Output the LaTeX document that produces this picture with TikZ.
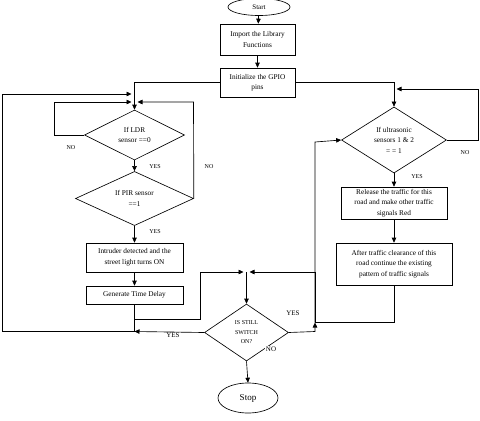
\documentclass[tikz,border=0pt]{standalone}
\usepackage{fontspec}
\setmainfont{Liberation Serif}
\usetikzlibrary{shapes.geometric,arrows.meta}
\begin{document}
\begin{tikzpicture}[x=1pt,y=-1pt,
  line width=0.65pt,
  conn/.style={draw=black},
  arr/.style={conn,-{Triangle[length=5pt,width=4.5pt]}},
  box/.style={draw,rectangle,inner sep=1pt,align=center,font=\fontsize{7.3}{10.5}\selectfont},
  dia/.style={draw,diamond,inner sep=0pt,align=center,font=\fontsize{7.3}{10.5}\selectfont},
  term/.style={draw,ellipse,inner sep=0pt},
  lbl/.style={inner sep=0.5pt,font=\fontsize{6}{7}\selectfont},
  lblb/.style={inner sep=0.5pt,font=\fontsize{7}{8}\selectfont}]
\useasboundingbox (0,0) rectangle (480,421);
\fill[white] (0,0) rectangle (480,421);

% terminals
\node[term,minimum width=62pt,minimum height=17pt,font=\fontsize{7}{8}\selectfont] (start) at (259,7) {Start};
\node[term,minimum width=60pt,minimum height=30pt,font=\fontsize{9}{10}\selectfont] (stop) at (248,398) {Stop};

% boxes
\node[box,minimum width=75pt,minimum height=31pt] (import) at (257.5,39.5) {Import the Library\\Functions};
\node[box,minimum width=75pt,minimum height=29pt] (init) at (257.5,82.5) {Initialize the GPIO\\pins};
\node[box,minimum width=97pt,minimum height=29pt] (intr) at (134.5,257.5) {Intruder detected and the\\street light turns ON};
\node[box,minimum width=97pt,minimum height=18pt] (gen) at (134.5,295) {Generate Time Delay};
\node[box,minimum width=106pt,minimum height=32pt] (rel) at (394,203) {Release the traffic for this\\road and make other traffic\\signals Red};
\node[box,minimum width=116pt,minimum height=42pt] (after) at (394,264) {After traffic clearance of this\\road continue the existing\\pattern of traffic signals};

% decisions
\node[dia,minimum width=100pt,minimum height=50pt] (ldr) at (134.5,135) {If LDR\\sensor ==0};
\node[dia,minimum width=118pt,minimum height=51pt] (pir) at (134.5,198.5) {If PIR sensor\\==1};
\node[dia,minimum width=105pt,minimum height=66pt] (ultra) at (394,140) {If ultrasonic\\sensors 1 \& 2\\= = 1};
\node[dia,minimum width=84pt,minimum height=57pt,font=\fontsize{6}{9.5}\selectfont] (sw) at (246.5,332.5) {IS STILL\\SWITCH\\ON?};

% coordinates
\coordinate (cL) at (134.5,82.5);
\coordinate (cR) at (394,82.5);
\coordinate (ldrNa) at (54,135);
\coordinate (ldrNb) at (54,102);
\coordinate (ldrNc) at (131.5,102);
\coordinate (pirNa) at (193.5,102);
\coordinate (pirNc) at (137.5,102);
\coordinate (loopA) at (134.5,331.5);
\coordinate (loopB) at (2,331.5);
\coordinate (loopC) at (2,94);
\coordinate (loopD) at (131.5,94);
\coordinate (genB) at (134.5,319);
\coordinate (genC) at (200,319);
\coordinate (genD) at (200,272);
\coordinate (jT) at (246.5,272);
\coordinate (jTl) at (243.5,272);
\coordinate (jTr) at (249.5,272);
\coordinate (aftA) at (394,322);
\coordinate (aftB) at (315,322);
\coordinate (aftC) at (315,272);
\coordinate (yesA) at (315,331.5);
\coordinate (yesB) at (315,322.5);
\coordinate (yesC) at (315,142);
\coordinate (ultNa) at (478,140);
\coordinate (ultNb) at (478,89);
\coordinate (ultNc) at (396.5,89);

% connectors
\draw[arr] (start) -- (import);
\draw[arr] (import) -- (init);
\draw[arr] (init.west) -- (cL) -- (ldr.north);
\draw[arr] (init.east) -- (cR) -- (ultra.north);
\draw[arr] (ldr.west) -- (ldrNa) -- (ldrNb) -- (ldrNc);
\draw[arr] (pir.east) -- (pirNa) -- (pirNc);
\draw[arr] (ldr.south) -- (pir.north);
\draw[arr] (pir.south) -- (intr.north);
\draw[arr] (intr) -- (gen);
\draw[conn] (gen.south) -- (loopA);
\draw[arr] (sw.west) -- (loopA);
\draw[arr] (loopA) -- (loopB) -- (loopC) -- (loopD);
\draw[arr] (genB) -- (genC) -- (genD) -- (jTl);
\draw[arr] (after.south) -- (aftA) -- (aftB) -- (aftC) -- (jTr);
\draw[arr] (jT) -- (sw.north);
\draw[arr] (sw.east) -- (yesA) -- (yesB);
\draw[arr] (yesB) -- (yesC) -- (ultra.west);
\draw[arr] (ultra.east) -- (ultNa) -- (ultNb) -- (ultNc);
\draw[arr] (ultra.south) -- (rel.north);
\draw[arr] (rel) -- (after);
\draw[arr] (sw.south) -- (stop.north);

% labels
\node[lbl] (l1) at (71,148) {NO};
\node[lbl] (l2) at (155,167) {YES};
\node[lbl] (l3) at (209,167) {NO};
\node[lbl] (l4) at (155,232) {YES};
\node[lbl] (l5) at (465,153) {NO};
\node[lbl] (l6) at (417,177) {YES};
\node[lblb] (l7) at (293,313) {YES};
\node[lblb,fill=white] (l8) at (271,349) {NO};
\node[lblb] (l9) at (173,335) {YES};
\end{tikzpicture}
\end{document}
